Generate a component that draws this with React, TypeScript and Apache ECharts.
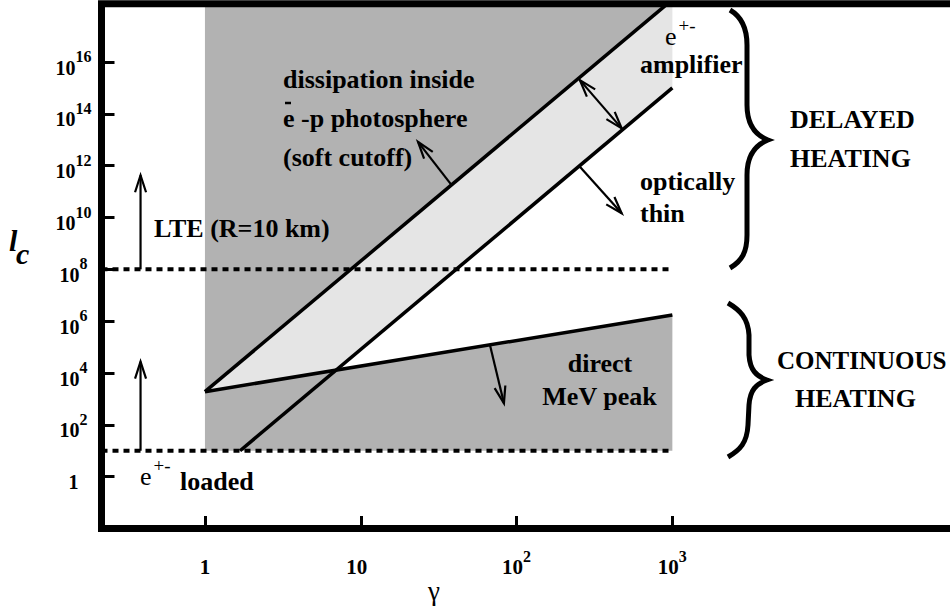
import React, { useEffect, useRef } from "react";
import * as echarts from "echarts";

// ---------- data (physical values; the chart is drawn on log10 of them) ----------
// axis extents, as log10(gamma) and log10(l_c)
const logGammaRange = [-0.664, 4.9];
const logLcRange = [-2, 18.25];

// tick values
const gammaTicks = [1, 10, 100, 1000];
const lcTicks = [1, 1e2, 1e4, 1e6, 1e8, 1e10, 1e12, 1e14, 1e16];

// boundary lines [gamma, l_c]
const photosphereEdge = [[1, 1.9e3], [933, 1.78e18]]; // upper diagonal
const thinEdge = [[1.68, 10], [1000, 1e15]]; // lower diagonal (optically thin)
const mevEdge = [[1, 1.9e3], [1000, 1.74e6]]; // direct MeV peak boundary
const lteLevel = 1e8; // LTE (R=10 km)
const pairLevel = 10; // e+- loaded
const gammaEnd = 1000; // right end of shaded regions / dashed lines

// arrows [tail, tip] in [gamma, l_c]
const arrowLte = [[0.386, 1e8], [0.386, 4.27e11]];
const arrowPair = [[0.386, 10], [0.386, 2.75e4]];
const arrowPhotosphere = [[38.3, 1.78e11], [23.3, 8.3e12]];
const arrowAmplifier = [[255, 2.0e15], [473, 2.75e13]];
const arrowThin = [[255, 9.1e11], [473, 1.45e10]];
const arrowMev = [[67.5, 1.2e5], [83, 676]];

// ---------- helpers ----------
const lg = (v: number) => Math.log10(v);
const toLog = (pts: number[][]) => pts.map((p) => [lg(p[0]), lg(p[1])]);
const SERIF = '"Liberation Serif", "Times New Roman", Times, serif';
const DARK = "#b2b2b2";
const LIGHT = "#e5e5e5";

const braceDelayed =
  "M730,10 C742,17 747,28 747,45 L747,105 C747,124 755,135 768,140 C755,145 747,156 747,175 L747,235 C747,252 742,261 730,268";
const braceContinuous =
  "M728,303 C740,310 748,318 749,335 L749,355 C750,370 756,376 767,380 C756,384 750,390 749,405 L748,425 C747,443 740,450 728,457";
echarts.graphic.registerShape("braceDelayed", echarts.graphic.extendPath(braceDelayed, {}));
echarts.graphic.registerShape("braceContinuous", echarts.graphic.extendPath(braceContinuous, {}));

function intersect(l1: number[][], l2: number[][]) {
  const s1 = (l1[1][1] - l1[0][1]) / (l1[1][0] - l1[0][0]);
  const s2 = (l2[1][1] - l2[0][1]) / (l2[1][0] - l2[0][0]);
  const c1 = l1[0][1] - s1 * l1[0][0];
  const c2 = l2[0][1] - s2 * l2[0][0];
  const x = (c2 - c1) / (s1 - s2);
  return [x, s1 * x + c1];
}

export default function App() {
  const ref = useRef<HTMLDivElement>(null);
  useEffect(() => {
    const chart = echarts.init(ref.current!, null, { renderer: "svg" });
    const A = toLog(photosphereEdge);
    const B = toLog(thinEdge);
    const C = toLog(mevEdge);
    const top = logLcRange[1];
    const xEnd = lg(gammaEnd);
    const yPair = lg(pairLevel);
    const yLte = lg(lteLevel);
    const BC = intersect(B, C);

    const darkUpper = [[A[0][0], top], A[0], A[1]];
    const lightBand = [A[0], A[1], [xEnd, top], B[1], BC, C[0]];
    const darkLower = [C[0], [C[0][0], yPair], [xEnd, yPair], C[1]];

    const poly = (pts: number[][], color: string) => ({
      type: "custom",
      coordinateSystem: "cartesian2d",
      silent: true,
      z: 1,
      data: [pts[0]],
      renderItem: (_p: any, api: any) => ({
        type: "polygon",
        shape: { points: pts.map((p) => api.coord(p)) },
        style: { fill: color, stroke: null },
      }),
    });
    const solid = (pts: number[][]) => ({
      type: "line",
      data: pts,
      symbol: "none",
      silent: true,
      z: 3,
      lineStyle: { color: "#000", width: 3.5 },
    });
    const dashed = (y: number) => ({
      type: "line",
      data: [
        [logGammaRange[0], y],
        [xEnd, y],
      ],
      symbol: "none",
      silent: true,
      z: 3,
      lineStyle: { color: "#000", width: 4, type: [6, 5] },
    });

    const labelBase = { fontFamily: SERIF, fontWeight: "bold", color: "#000" };
    const xTickVals = gammaTicks.map(lg);
    const yTickVals = lcTicks.map(lg);
    const fmt = (v: number) => {
      const n = Math.round(v);
      if (n === 0) return "{b|1}";
      if (n === 1) return "{ten|10}";
      return `{b|10}{sup|${n}}`;
    };

    chart.setOption({
      animation: false,
      backgroundColor: "#fff",
      grid: {
        show: true,
        left: 101.5,
        top: 3.7,
        width: (logGammaRange[1] - logGammaRange[0]) * 155.8,
        height: 524.8,
        outerBoundsMode: "none",
        containLabel: false,
        borderWidth: 7,
        borderColor: "#000",
        backgroundColor: "transparent",
        z: 10,
      },
      xAxis: {
        type: "value",
        min: logGammaRange[0],
        max: logGammaRange[1],
        axisLine: { show: false, onZero: false },
        splitLine: { show: false },
        z: 10,
        axisTick: {
          show: true,
          inside: true,
          length: 12.5,
          customValues: xTickVals,
          lineStyle: { color: "#000", width: 3 },
        },
        axisLabel: {
          show: true,
          customValues: xTickVals,
          formatter: fmt,
          margin: 38,
          verticalAlign: "middle",
          ...labelBase,
          fontSize: 21,
          rich: {
            b: { ...labelBase, fontSize: 21 },
            ten: { ...labelBase, fontSize: 21, padding: [0, 8, 0, 0] },
            sup: { ...labelBase, fontSize: 16, padding: [0, 0, 20, 0] },
          },
        },
      },
      yAxis: {
        type: "value",
        min: logLcRange[0],
        max: logLcRange[1],
        axisLine: { show: false, onZero: false },
        splitLine: { show: false },
        z: 10,
        axisTick: {
          show: true,
          inside: true,
          length: 13,
          customValues: yTickVals,
          lineStyle: { color: "#000", width: 3 },
        },
        axisLabel: {
          show: true,
          customValues: yTickVals,
          formatter: (v: number) => {
            const n = Math.round(v);
            return n === 0 ? "{b|1}" : `{b|10}{sup|${n}}`;
          },
          margin: 28,
          align: "center",
          padding: [11, 0, 0, 0],
          ...labelBase,
          fontSize: 20,
          rich: {
            b: { ...labelBase, fontSize: 20 },
            sup: { ...labelBase, fontSize: 16, padding: [0, 0, 22, 0] },
          },
        },
      },
      series: [
        poly(darkUpper, DARK),
        poly(darkLower, DARK),
        poly(lightBand, LIGHT),
        solid(A),
        solid(B),
        solid(C),
        dashed(yLte),
        dashed(yPair),
      ],
    });

    const toPx = (p: number[]) =>
      chart.convertToPixel({ gridIndex: 0 }, [lg(p[0]), lg(p[1])]) as number[];
    const H = 17;
    const W = 5.5;
    const head = (p: number[], q: number[]) => {
      const dx = q[0] - p[0];
      const dy = q[1] - p[1];
      const L = Math.hypot(dx, dy);
      const ux = dx / L;
      const uy = dy / L;
      const nx = -uy;
      const ny = ux;
      return {
        type: "polyline",
        z: 100,
        silent: true,
        shape: {
          points: [
            [q[0] - ux * H + nx * W, q[1] - uy * H + ny * W],
            [q[0], q[1]],
            [q[0] - ux * H - nx * W, q[1] - uy * H - ny * W],
          ],
        },
        style: { stroke: "#000", lineWidth: 2.2, fill: null },
      };
    };
    const arrow = (ar: number[][], both = false) => {
      const a = toPx(ar[0]);
      const b = toPx(ar[1]);
      const els: any[] = [
        {
          type: "line",
          z: 100,
          silent: true,
          shape: { x1: a[0], y1: a[1], x2: b[0], y2: b[1] },
          style: { stroke: "#000", lineWidth: 2.2 },
        },
        head(a, b),
      ];
      if (both) els.push(head(b, a));
      return els;
    };
    const T = (text: string, x: number, y: number, o: any = {}) => ({
      type: "text",
      x,
      y,
      z: 100,
      silent: true,
      style: {
        text,
        fill: "#000",
        fontFamily: SERIF,
        fontSize: 26,
        fontWeight: "bold",
        align: "left",
        verticalAlign: "middle",
        ...o,
      },
    });
    const ePair = {
      fontWeight: "normal",
      fontSize: 26,
      rich: {
        e: { fontFamily: SERIF, fontWeight: "normal", fontSize: 26, fill: "#000" },
        sup: {
          fontFamily: SERIF,
          fontWeight: "normal",
          fontSize: 19,
          fill: "#000",
          padding: [0, 0, 22, 2],
        },
      },
    };

    chart.setOption({
      graphic: [
        ...arrow(arrowLte),
        ...arrow(arrowPair),
        ...arrow(arrowPhotosphere),
        ...arrow(arrowAmplifier, true),
        ...arrow(arrowThin),
        ...arrow(arrowMev),
        T("dissipation inside", 283, 79.5),
        T("e -p photosphere", 283, 118),
        {
          type: "line",
          z: 100,
          silent: true,
          shape: { x1: 285, y1: 103, x2: 291, y2: 103 },
          style: { stroke: "#000", lineWidth: 2.5 },
        },
        T("(soft cutoff)", 283, 157),
        T("LTE (R=10 km)", 154, 228),
        T("{e|e}{sup|+-}", 665, 36, ePair),
        T("amplifier", 640, 64.5),
        T("optically", 640, 181.5),
        T("thin", 640, 213),
        T("DELAYED", 790, 119),
        T("HEATING", 790, 158),
        T("CONTINUOUS", 777, 360, { fontSize: 25 }),
        T("HEATING", 795, 398),
        T("direct", 600, 363, { align: "center" }),
        T("MeV peak", 599.5, 396, { align: "center" }),
        T("{e|e}{sup|+-}", 140, 476, ePair),
        T("loaded", 180, 481.5),
        T("l", 9, 240, { fontStyle: "italic", fontSize: 30 }),
        T("c", 16, 253, { fontStyle: "italic", fontSize: 30 }),
        T("γ", 434, 591, { fontWeight: "normal", fontSize: 27, align: "center" }),
        {
          type: "braceDelayed",
          z: 100,
          silent: true,
          style: { stroke: "#000", lineWidth: 5, fill: "none" },
        },
        {
          type: "braceContinuous",
          z: 100,
          silent: true,
          style: { stroke: "#000", lineWidth: 5, fill: "none" },
        },
      ],
    });
    return () => chart.dispose();
  }, []);
  return (
    <div
      ref={ref}
      style={{ position: "fixed", left: 0, top: 0, width: 950, height: 613, background: "#fff" }}
    />
  );
}
